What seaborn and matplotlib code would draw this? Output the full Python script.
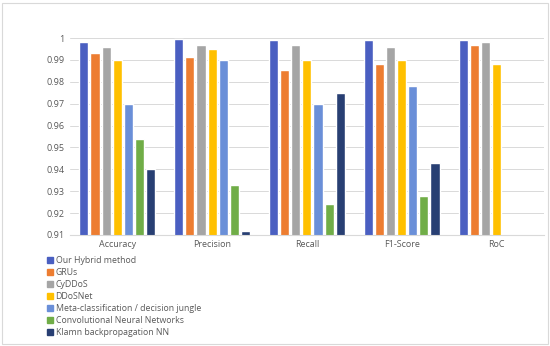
import numpy as np
import pandas as pd
import matplotlib
matplotlib.use("Agg")
import matplotlib.pyplot as plt
from matplotlib.patches import Rectangle
import seaborn as sns

# dados
metrics = ["Accuracy", "Precision", "Recall", "F1-Score", "RoC"]
methods = [
    "Our Hybrid method",
    "GRUs",
    "CyDDoS",
    "DDoSNet",
    "Meta-classification / decision jungle",
    "Convolutional Neural Networks",
    "Klamn backpropagation NN",
]
hybrid = [0.998, 0.9995, 0.999, 0.999, 0.999]
grus = [0.993, 0.9912, 0.9855, 0.988, 0.997]
cyddos = [0.996, 0.997, 0.997, 0.996, 0.998]
ddosnet = [0.990, 0.995, 0.990, 0.990, 0.988]
meta = [0.970, 0.990, 0.970, 0.978, np.nan]
cnn = [0.954, 0.933, 0.924, 0.928, np.nan]
klamn = [0.940, 0.912, 0.975, 0.943, np.nan]

colors = ["#4a5fc1", "#ed7d31", "#a5a5a5", "#ffc000", "#6a8fd8", "#70ad47", "#283f73"]
yticks = [0.91, 0.92, 0.93, 0.94, 0.95, 0.96, 0.97, 0.98, 0.99, 1.0]
ytick_labels = ["0.91", "0.92", "0.93", "0.94", "0.95", "0.96", "0.97", "0.98", "0.99", "1"]

series = [hybrid, grus, cyddos, ddosnet, meta, cnn, klamn]
rows = []
for name, vals in zip(methods, series):
    for m, v in zip(metrics, vals):
        rows.append({"metric": m, "method": name, "value": v})
df = pd.DataFrame(rows)

sns.set_style("white")
plt.rcParams["font.family"] = ["Open Sans", "DejaVu Sans"]

fig = plt.figure(figsize=(5.5, 3.46), dpi=100)
ax = fig.add_axes([0.127, 0.321, 0.862, 0.569])

sns.barplot(data=df, x="metric", y="value", hue="method", hue_order=methods,
            order=metrics, palette=colors, width=0.82, gap=0.18,
            saturation=1, legend=False, ax=ax)

ax.set_ylim(0.91, 1.0)
ax.set_yticks(yticks)
ax.set_yticklabels(ytick_labels)
ax.set_xlabel("")
ax.set_ylabel("")
ax.grid(axis="y", color="#d9d9d9", linewidth=0.7)
ax.set_axisbelow(True)
for s in ["top", "right", "left"]:
    ax.spines[s].set_visible(False)
ax.spines["bottom"].set_color("#d9d9d9")
ax.tick_params(axis="both", length=0, labelsize=6.5, labelcolor="#595959", pad=4)

handles = [Rectangle((0, 0), 1, 1, color=c) for c in colors]
fig.legend(handles, methods, loc="upper left", bbox_to_anchor=(0.086, 0.26),
           frameon=False, fontsize=6.3, labelcolor="#595959",
           handlelength=0.6, handleheight=0.6, handletextpad=0.35,
           labelspacing=0.34, borderaxespad=0, borderpad=0)

# moldura clara em volta da figura
fig.patches.append(Rectangle((0.004, 0.006), 0.992, 0.985, transform=fig.transFigure,
                             fill=False, edgecolor="#d9d9d9", linewidth=0.8))

fig.savefig("out.png", dpi=100)
plt.close(fig)
